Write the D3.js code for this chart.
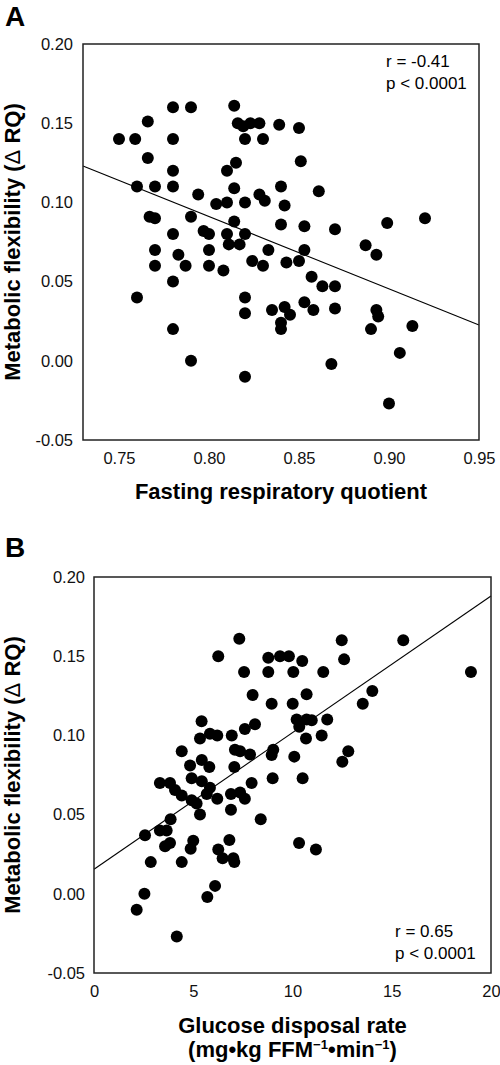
<!DOCTYPE html>
<html><head><meta charset="utf-8">
<script src="https://cdn.jsdelivr.net/npm/d3@7"></script>
<style>
body{margin:0;background:#fff;}
svg{display:block;font-family:"Liberation Sans",Arial,sans-serif;}
</style></head>
<body><svg id="c" width="500" height="1065"></svg>
<script>
// ---- Panel A data: fasting RQ vs metabolic flexibility ----
const rqA = [0.750,0.759,0.766,0.766,0.780,0.790,0.780,0.780,0.760,0.770,0.780,0.794,0.814,0.816,0.819,0.823,0.828,0.820,0.830,0.815,0.810,0.814,0.804,0.810,0.820,0.828,0.831,0.839,0.850,0.851,0.840,0.861,0.842,
 0.767,0.770,0.790,0.780,0.770,0.770,0.783,0.787,0.797,0.800,0.800,0.800,0.808,0.810,0.811,0.817,0.814,0.820,0.824,0.830,0.780,0.760,0.780,0.790,0.820,0.820,0.820,
 0.840,0.853,0.870,0.899,0.920,0.833,0.853,0.843,0.850,0.887,0.893,0.857,0.863,0.870,0.835,0.842,0.845,0.840,0.840,0.853,0.858,0.870,0.893,0.894,0.890,0.913,0.906,0.868,0.900];
const flexA = [0.140,0.140,0.151,0.128,0.160,0.160,0.140,0.120,0.110,0.110,0.110,0.105,0.161,0.150,0.148,0.150,0.150,0.140,0.140,0.125,0.120,0.109,0.099,0.100,0.100,0.105,0.101,0.149,0.147,0.126,0.110,0.107,0.098,
 0.091,0.090,0.091,0.080,0.070,0.060,0.067,0.060,0.082,0.080,0.070,0.060,0.057,0.080,0.0735,0.0735,0.088,0.080,0.063,0.060,0.050,0.040,0.020,0.000,0.040,0.030,-0.010,
 0.086,0.085,0.083,0.087,0.090,0.070,0.070,0.062,0.063,0.073,0.067,0.053,0.047,0.047,0.032,0.034,0.029,0.024,0.020,0.037,0.032,0.033,0.032,0.028,0.020,0.022,0.005,-0.002,-0.027];
const fitA_x = [0.73, 0.95];
const fitA_y = [0.123, 0.0226];
const ticksA_x = [0.75, 0.80, 0.85, 0.90, 0.95];
const ticksY = [-0.05, 0.00, 0.05, 0.10, 0.15, 0.20];

// ---- Panel B data: glucose disposal rate vs metabolic flexibility ----
const gdrB = [7.32,6.26,7.56,5.42,5.34,5.84,6.21,6.94,7.60,4.42,7.10,7.36,7.86,
 4.84,5.43,5.81,7.07,3.32,3.83,4.08,4.42,4.92,5.43,5.84,5.68,4.92,5.17,6.21,5.34,6.90,7.36,7.60,6.90,7.94,3.86,2.57,3.32,3.66,3.58,3.83,5.00,4.87,2.86,4.42,6.26,6.48,7.02,7.07,6.82,6.10,5.71,2.54,2.15,4.17,
 12.48,15.58,12.60,8.78,9.37,9.82,10.49,8.78,10.04,11.55,18.99,7.99,8.95,10.01,10.71,13.54,14.02,10.21,10.71,10.97,10.34,11.75,8.11,10.68,11.47,9.03,8.95,10.09,12.81,12.51,9.00,10.51,8.40,10.33,11.18];
const flexB = [0.161,0.150,0.140,0.109,0.098,0.101,0.100,0.100,0.104,0.090,0.091,0.090,0.088,
 0.081,0.0845,0.080,0.080,0.070,0.070,0.0655,0.062,0.073,0.071,0.067,0.063,0.059,0.057,0.060,0.050,0.063,0.064,0.060,0.053,0.070,0.047,0.037,0.040,0.040,0.030,0.032,0.0335,0.0285,0.020,0.020,0.028,0.0225,0.0225,0.020,0.034,0.005,-0.002,0.000,-0.010,-0.027,
 0.160,0.160,0.148,0.149,0.150,0.150,0.147,0.140,0.140,0.140,0.140,0.1255,0.120,0.120,0.126,0.120,0.128,0.110,0.110,0.1095,0.1055,0.110,0.107,0.098,0.100,0.091,0.0877,0.0866,0.090,0.0834,0.073,0.073,0.047,0.032,0.028];
const fitB_x = [0, 20];
const fitB_y = [0.0155, 0.188];
const ticksB_x = [0, 5, 10, 15, 20];

const svg = d3.select("#c");
const FONT = '"Liberation Sans",Arial,sans-serif';

function panel(o){
  const g = svg.append("g");
  const x = d3.scaleLinear().domain(o.xd).range([o.l, o.r]);
  const y = d3.scaleLinear().domain([-0.05, 0.20]).range([o.b, o.t]);
  g.append("line")
    .attr("x1", x(o.fx[0])).attr("y1", y(o.fy[0]))
    .attr("x2", x(o.fx[1])).attr("y2", y(o.fy[1]))
    .attr("stroke", "#000").attr("stroke-width", 1.1);
  g.selectAll("circle.pt").data(d3.range(o.xs.length)).enter().append("circle")
    .attr("cx", i => x(o.xs[i])).attr("cy", i => y(o.ys[i])).attr("r", 6).attr("fill", "#000");
  g.append("rect").attr("x", o.l).attr("y", o.t).attr("width", o.r - o.l).attr("height", o.b - o.t)
    .attr("fill", "none").attr("stroke", "#222").attr("stroke-width", 1.5);
  const ay = g.append("g").attr("transform", `translate(${o.l},0)`)
    .call(d3.axisLeft(y).tickValues(ticksY).tickSize(0).tickPadding(o.ypad).tickFormat(d => d.toFixed(2)));
  const ax = g.append("g").attr("transform", `translate(0,${o.b})`)
    .call(d3.axisBottom(x).tickValues(o.xt).tickSize(0).tickPadding(o.xpad).tickFormat(o.xf));
  [ay, ax].forEach(a => {
    a.select(".domain").remove();
    a.selectAll("text").attr("font-family", FONT).attr("font-size", 16.5).attr("fill", "#111");
  });
  const yt = g.append("text").attr("transform", `translate(${o.ytx},${(o.t + o.b) / 2}) rotate(-90)`)
    .attr("text-anchor", "middle").attr("font-size", 22).attr("font-weight", "bold").attr("fill", "#000");
  yt.append("tspan").text("Metabolic flexibility (");
  yt.append("tspan").attr("font-weight", "normal").text("\u0394");
  yt.append("tspan").text(" RQ)");
  g.append("text").attr("x", o.sx).attr("y", o.sy).attr("font-size", 17).text(o.r_txt);
  g.append("text").attr("x", o.sx).attr("y", o.sy + 21.5).attr("font-size", 17).text("p < 0.0001");
  g.append("text").attr("x", 5).attr("y", o.ly).attr("font-size", 28).attr("font-weight", "bold").text(o.letter);
  return {x, y, g};
}

const A = panel({xd:[0.73,0.95], l:83, r:479, t:44, b:440, xs:rqA, ys:flexA, fx:fitA_x, fy:fitA_y,
  xt:ticksA_x, xf:d => d.toFixed(2), ypad:10, xpad:12, ytx:20, sx:386, sy:67, r_txt:"r = -0.41", letter:"A", ly:26});
A.g.append("text").attr("x", (83 + 479) / 2).attr("y", 499).attr("text-anchor", "middle")
  .attr("font-size", 22).attr("font-weight", "bold").text("Fasting respiratory quotient");

const B = panel({xd:[0,20], l:94, r:491, t:577, b:973, xs:gdrB, ys:flexB, fx:fitB_x, fy:fitB_y,
  xt:ticksB_x, xf:d => String(d), ypad:9, xpad:12, ytx:20, sx:395, sy:937, r_txt:"r = 0.65", letter:"B", ly:557});
const cx = (94 + 491) / 2;
B.g.append("text").attr("x", cx).attr("y", 1033).attr("text-anchor", "middle")
  .attr("font-size", 22).attr("font-weight", "bold").text("Glucose disposal rate");
const t2 = B.g.append("text").attr("x", cx).attr("y", 1057).attr("text-anchor", "middle")
  .attr("font-size", 22).attr("font-weight", "bold");
t2.append("tspan").text("(mg\u2022kg FFM");
t2.append("tspan").attr("font-size", 13).attr("dy", -8).text("\u22121");
t2.append("tspan").attr("dy", 8).text("\u2022min");
t2.append("tspan").attr("font-size", 13).attr("dy", -8).text("\u22121");
t2.append("tspan").attr("dy", 8).text(")");
</script></body></html>
